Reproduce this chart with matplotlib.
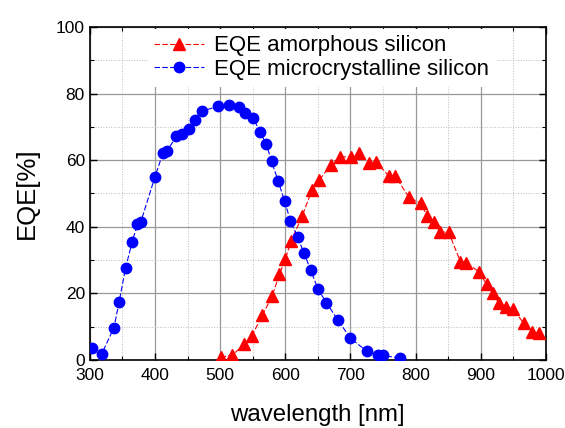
import matplotlib
matplotlib.use('Agg')
import matplotlib.pyplot as plt
from matplotlib.ticker import MultipleLocator

plt.rcParams['font.family'] = ['Liberation Sans', 'DejaVu Sans']

# EQE of microcrystalline silicon cell
wl_mc = [303, 318, 337, 345, 355, 365, 373, 378, 400, 412, 419, 433, 442, 453,
         461, 472, 497, 513, 529, 538, 551, 561, 571, 579, 589, 599, 608, 619,
         629, 639, 650, 663, 681, 700, 725, 743, 750, 776]
eqe_mc = [3.5, 1.7, 9.7, 17.5, 27.7, 35.5, 40.7, 41.3, 55.0, 62.0, 62.8, 67.3,
          68.0, 69.4, 72.2, 74.7, 76.2, 76.7, 76.0, 74.2, 72.7, 68.5, 64.8,
          59.6, 53.8, 47.7, 41.7, 36.9, 32.0, 27.0, 21.4, 17.2, 12.0, 6.5,
          2.7, 1.4, 1.4, 0.5]

# EQE of amorphous silicon cell
wl_a = [501, 519, 537, 549, 565, 580, 591, 600, 609, 626, 641, 652, 670, 684,
        701, 714, 728, 740, 759, 769, 790, 809, 817, 829, 837, 851, 869, 878,
        897, 909, 919, 928, 939, 950, 966, 979, 990]
eqe_a = [0.8, 1.5, 4.7, 7.3, 13.5, 19.2, 25.7, 30.2, 35.7, 43.2, 51.0, 54.0,
         58.5, 61.0, 61.0, 62.0, 59.2, 59.5, 55.2, 55.2, 48.8, 47.0, 43.3,
         41.5, 38.5, 38.3, 29.5, 29.2, 26.5, 22.8, 20.0, 17.0, 16.0, 15.3,
         11.0, 8.5, 8.0]

fig = plt.figure(figsize=(5.65, 4.28), dpi=100)
ax = fig.add_axes([0.159, 0.159, 0.807, 0.778])

ax.plot(wl_a, eqe_a, color='red', ls=(0, (5, 2)), lw=0.8, marker='^',
        ms=8, mec='red', label='EQE amorphous silicon', zorder=3)
ax.plot(wl_mc, eqe_mc, color='blue', ls=(0, (5, 2)), lw=0.8, marker='o',
        ms=7.5, mec='blue', label='EQE microcrystalline silicon', zorder=3)

ax.set_xlim(300, 1000)
ax.set_ylim(0, 100)
ax.xaxis.set_major_locator(MultipleLocator(100))
ax.xaxis.set_minor_locator(MultipleLocator(50))
ax.yaxis.set_major_locator(MultipleLocator(20))
ax.yaxis.set_minor_locator(MultipleLocator(10))
ax.grid(which='major', color='#999999', lw=0.9, ls='-')
ax.grid(which='minor', color='#bbbbbb', lw=0.7, ls=':')
ax.set_axisbelow(True)
ax.tick_params(which='both', direction='in', top=True, right=True,
               labelsize=12.5)
ax.tick_params(axis='x', which='major', pad=6)
ax.tick_params(which='major', length=5, width=1)
ax.tick_params(which='minor', length=3, width=0.8)
for s in ax.spines.values():
    s.set_linewidth(1.2)

ax.set_xlabel('wavelength [nm]', fontsize=17.3, labelpad=15)
ax.set_ylabel('EQE[%]', fontsize=18.5, labelpad=12)

leg = ax.legend(loc='upper left', bbox_to_anchor=(0.127, 0.995), fontsize=16,
                frameon=True, framealpha=1, edgecolor='none', facecolor='white',
                fancybox=False, handlelength=2.25, handletextpad=0.45,
                labelspacing=0.12, borderpad=0.3, borderaxespad=0)
leg.set_zorder(5)

fig.savefig('out.png', dpi=100)
